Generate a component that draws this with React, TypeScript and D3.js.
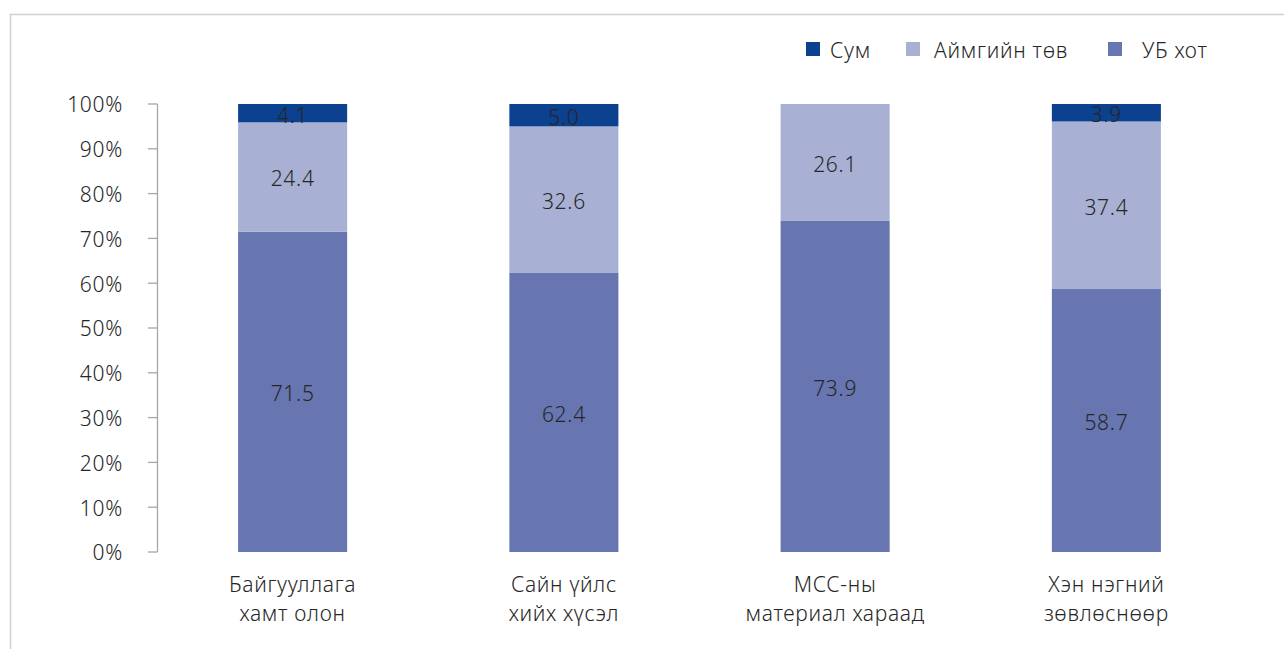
import React from "react";
import * as d3 from "d3";

const categories: string[][] = [
  ["Байгууллага", "хамт олон"],
  ["Сайн үйлс", "хийх хүсэл"],
  ["МСС-ны", "материал хараад"],
  ["Хэн нэгний", "зөвлөснөөр"],
];
const seriesNames = ["УБ хот", "Аймгийн төв", "Сум"];
const ubValues = [71.5, 62.4, 73.9, 58.7];
const aimagValues = [24.4, 32.6, 26.1, 37.4];
const sumValues = [4.1, 5.0, 0, 3.9];
const tickValues = [0, 10, 20, 30, 40, 50, 60, 70, 80, 90, 100];
const colors = ["#6775B0", "#A8B0D3", "#0B418F"];
const legendOrder = [2, 1, 0];

const W = 1284;
const H = 649;
const FONT = "'Noto Sans', sans-serif";
const FS = 21;
const LS = 0.7;

export default function App() {
  const x = d3.scaleBand<number>().domain(d3.range(categories.length)).range([157, 1242]).paddingInner(0.598).paddingOuter(0.299);
  const y = d3.scaleLinear().domain([0, 100]).range([552, 104]);
  const data = categories.map((_, i) => ({ ub: ubValues[i], aimag: aimagValues[i], sum: sumValues[i] }));
  const stack = d3.stack<any>().keys(["ub", "aimag", "sum"])(data);

  return (
    <svg width={W} height={H} style={{ position: "absolute", left: 0, top: 0, fontFamily: FONT, fontWeight: 300, letterSpacing: LS }}>
      <rect x={10.5} y={14.5} width={W} height={H} fill="#fff" stroke="#D0D0D0" strokeWidth={1.5} />
      {/* axis */}
      <line x1={157.5} x2={157.5} y1={y(0)} y2={y(100)} stroke="#A6A6A6" strokeWidth={1.3} />
      {tickValues.map((t) => (
        <g key={t}>
          <line x1={148} x2={157.5} y1={y(t)} y2={y(t)} stroke="#A6A6A6" strokeWidth={1.3} />
          <text x={123} y={y(t) + 1} dy="0.35em" textAnchor="end" fontSize={FS} fill="#262626">
            {t}%
          </text>
        </g>
      ))}
      {stack.map((s, si) =>
        s.map((d, i) => {
          const v = d[1] - d[0];
          if (v <= 0) return null;
          const y0 = y(d[0]);
          const y1 = y(d[1]);
          return (
            <g key={si + "-" + i}>
              <rect x={x(i)!} y={y1} width={x.bandwidth()} height={y0 - y1} fill={colors[si]} />
              <text x={x(i)! + x.bandwidth() / 2} y={(y0 + y1) / 2 + 2} dy="0.35em" textAnchor="middle" fontSize={FS} fill="#262626">
                {v.toFixed(1)}
              </text>
            </g>
          );
        })
      )}
      {categories.map((lines, i) => (
        <text key={i} x={x(i)! + x.bandwidth() / 2} textAnchor="middle" fontSize={FS} fill="#262626">
          {lines.map((l, li) => (
            <tspan key={li} x={x(i)! + x.bandwidth() / 2} y={592 + li * 29}>
              {l}
            </tspan>
          ))}
        </text>
      ))}
      {/* legend */}
      {legendOrder.map((si, k) => {
        const sx = [806, 906, 1108][k];
        const tx = [830, 934, 1142][k];
        return (
          <g key={si}>
            <rect x={sx} y={42} width={14} height={14} fill={colors[si]} />
            <text x={tx} y={51} dy="0.35em" fontSize={FS} fill="#262626">
              {seriesNames[si]}
            </text>
          </g>
        );
      })}
    </svg>
  );
}
